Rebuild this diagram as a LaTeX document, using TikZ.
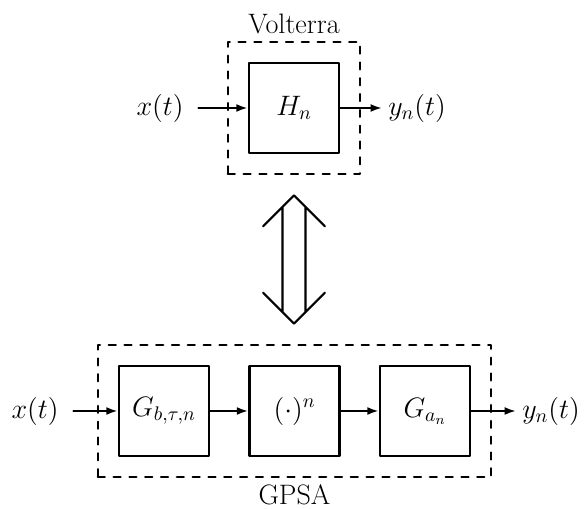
\RequirePackage{fix-cm}
\documentclass[tikz,border=0pt]{standalone}
\usetikzlibrary{fit,arrows.meta}
\begin{document}
\begin{tikzpicture}[x=0.02cm, y=-0.02cm, font=\fontsize{16}{19}\selectfont, line join=round, line cap=round, >={Latex[length=6.5pt,width=4.5pt]},
	blk/.style={draw, line width=1.4pt, minimum width=1.8cm, minimum height=1.8cm, inner sep=0pt},
	dashbox/.style={draw, line width=1.3pt, dash pattern=on 4pt off 5pt, inner sep=0.4cm},
	sig/.style={line width=1.2pt, ->}]
	\useasboundingbox (0,0) rectangle (586,509);
	% Volterra
	\node[blk] (H) at (294,108) {$H_n$};
	\node (xa) at (160,108) {$x(t)$};
	\node (ya) at (417,108) {$y_n(t)$};
	\node[dashbox, fit=(H)] (V) {};
	\node[above] (vt) at (V.north) {Volterra};
	\draw[sig, shorten <=5pt] (xa) -- (H);
	\draw[sig] (H) -- (ya);
	% GPSA
	\node[blk] (Gb) at (164,411) {$G_{b,\tau,n}$};
	\node[blk] (P) at (294.5,411) {$(\cdot)^{n}$};
	\node[blk] (Ga) at (425,411) {$G_{a_n}$};
	\node (xb) at (35,411) {$x(t)$};
	\node (yb) at (551,411) {$y_n(t)$};
	\node[dashbox, fit=(Gb)(Ga)] (GP) {};
	\node[below] (gt) at (GP.south) {GPSA};
	\draw[sig, shorten <=5pt] (xb) -- (Gb);
	\draw[sig] (Gb) -- (P);
	\draw[sig] (P) -- (Ga);
	\draw[sig] (Ga) -- (yb);
	% equivalence
	\path
	([yshift=-0.4cm]V.south) coordinate (T)
	([yshift=0.4cm]T |- GP.north) coordinate (B)
	(T) +(-11.5,11.5) coordinate (Tl) +(11.5,11.5) coordinate (Tr)
	(B) +(-11.5,-11.5) coordinate (Bl) +(11.5,-11.5) coordinate (Br)
	;
	\draw[line width=1.2pt]
	(T) +(-31,31) -- (T) -- +(31,31)
	(B) +(-31,-31) -- (B) -- +(31,-31)
	(Tl) -- (Bl) (Tr) -- (Br)
	;
\end{tikzpicture}
\end{document}
